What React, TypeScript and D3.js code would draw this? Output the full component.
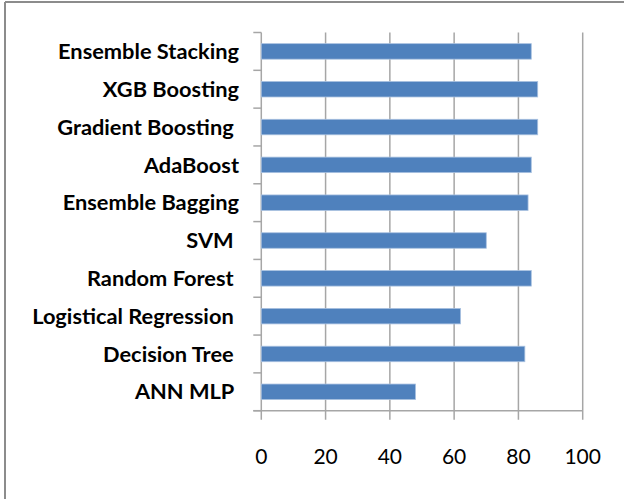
import React from "react";
import * as d3 from "d3";

const categories = [
  "Ensemble Stacking",
  "XGB Boosting",
  "Gradient Boosting ",
  "AdaBoost",
  "Ensemble Bagging",
  "SVM ",
  "Random Forest ",
  "Logistical Regression ",
  "Decision Tree ",
  "ANN MLP ",
];
const values = [84, 86, 86, 84, 83, 70, 84, 62, 82, 48];
const xTicks = [0, 20, 40, 60, 80, 100];

const W = 624;
const H = 499;
const left = 261.3;
const right = 582.7;
const top = 32.5;
const bottom = 410.7;

export default function App() {
  const x = d3.scaleLinear().domain([0, 100]).range([left, right]);
  const y = d3
    .scaleBand<string>()
    .domain(categories)
    .range([top, bottom])
    .paddingInner(0.59)
    .paddingOuter(0.295);
  const step = (bottom - top) / categories.length;
  const grid = "#a6a6a6";
  return (
    <svg
      width={W}
      height={H}
      style={{ position: "absolute", left: 0, top: 0, background: "#fff" }}
    >
      <rect x={0} y={0} width={W} height={H} fill="#fff" />
      {/* outer frame */}
      <line x1={5} x2={W} y1={2} y2={2} stroke="#8c8c8c" strokeWidth={2} />
      <line x1={5} x2={5} y1={2} y2={H} stroke="#8c8c8c" strokeWidth={2} />
      {/* gridlines */}
      {xTicks.map((t) => (
        <line
          key={"g" + t}
          x1={x(t)}
          x2={x(t)}
          y1={top}
          y2={bottom + 9}
          stroke={grid}
          strokeWidth={1.5}
        />
      ))}
      {/* x axis */}
      <line x1={left - 8} x2={right} y1={bottom} y2={bottom} stroke={grid} strokeWidth={1.5} />
      {/* y axis ticks */}
      {d3.range(categories.length + 1).map((i) => (
        <line
          key={"yt" + i}
          x1={left - 8}
          x2={left}
          y1={top + i * step}
          y2={top + i * step}
          stroke={grid}
          strokeWidth={1.5}
        />
      ))}
      {/* bars */}
      {categories.map((c, i) => (
        <rect
          key={c}
          x={x(0)}
          y={y(c)}
          width={x(values[i]) - x(0)}
          height={y.bandwidth()}
          fill="#4f81bd"
          stroke="#a9c1e0"
          strokeWidth={0.8}
        />
      ))}
      {/* category labels */}
      {categories.map((c) => (
        <text
          key={"l" + c}
          x={239}
          y={(y(c) as number) + y.bandwidth() / 2}
          dy="0.35em"
          textAnchor="end"
          fontFamily="Lato, sans-serif"
          fontWeight="bold"
          fontSize={21.8}
          fill="#000"
          style={{ whiteSpace: "pre" }}
        >
          {c}
        </text>
      ))}
      {/* x tick labels */}
      {xTicks.map((t) => (
        <text
          key={"xl" + t}
          x={x(t)}
          y={456}
          dy="0.36em"
          textAnchor="middle"
          fontFamily="Lato, sans-serif"
          fontSize={21}
          fill="#000"
        >
          {t}
        </text>
      ))}
    </svg>
  );
}
